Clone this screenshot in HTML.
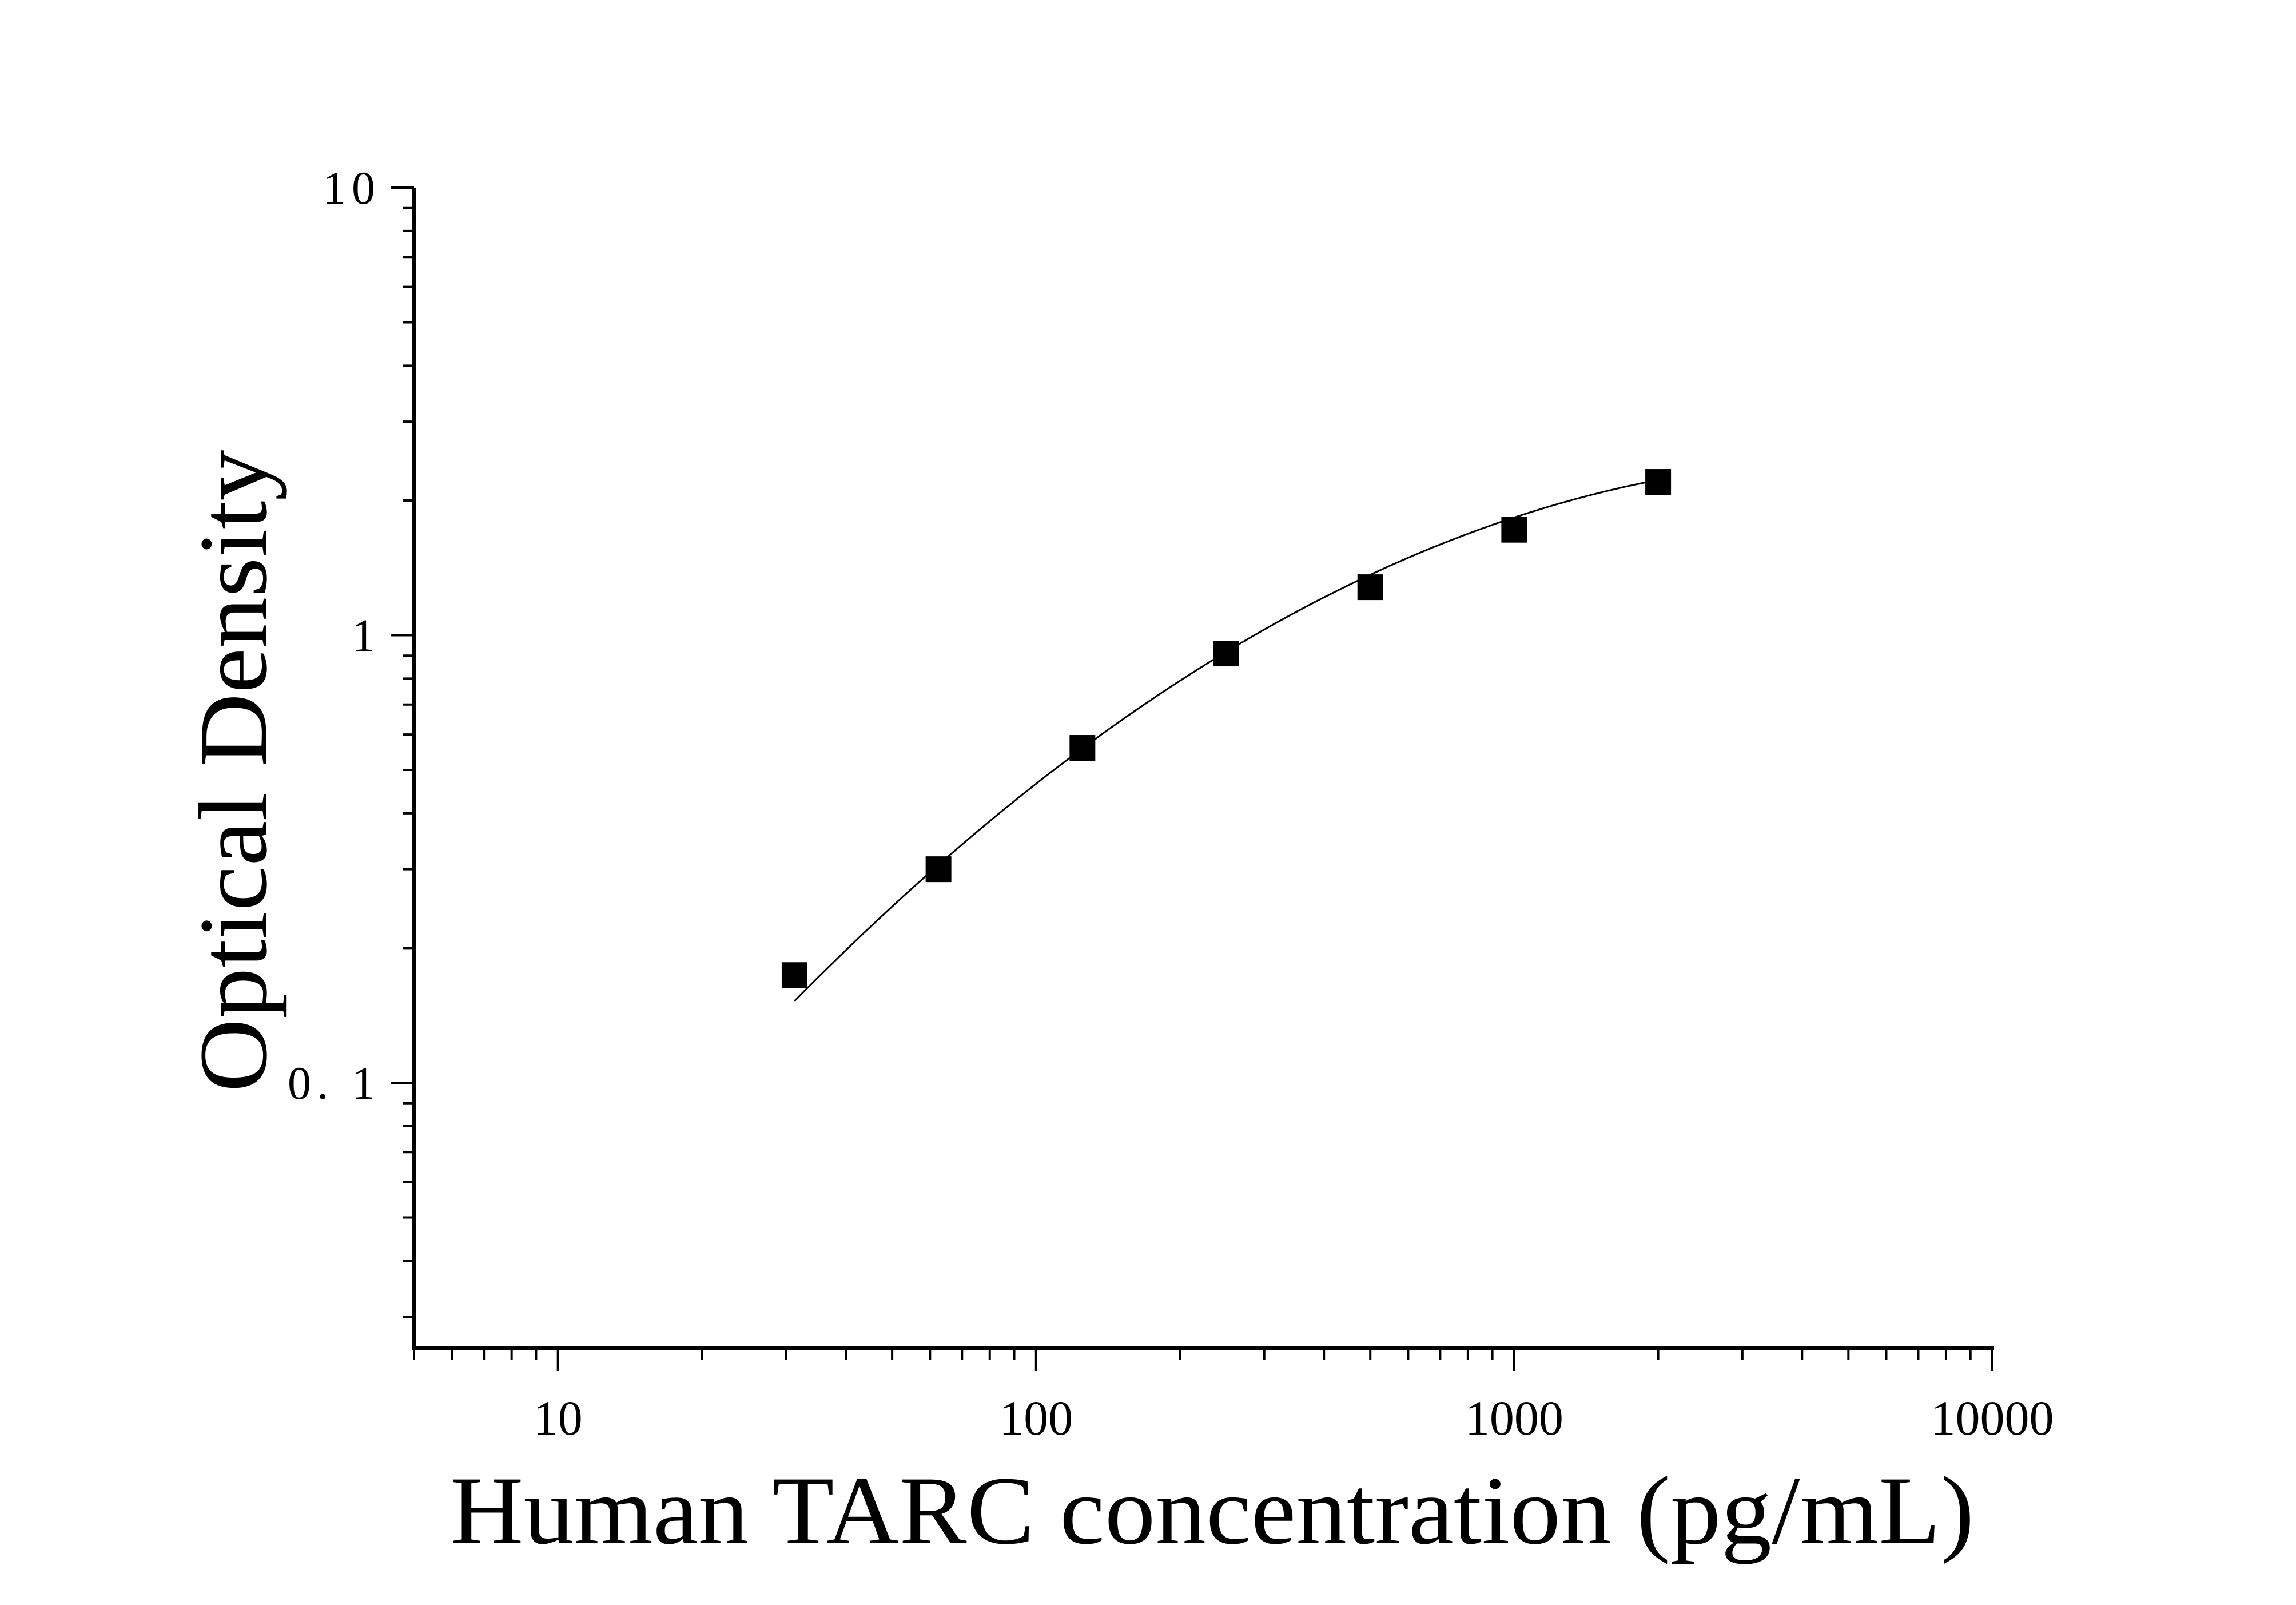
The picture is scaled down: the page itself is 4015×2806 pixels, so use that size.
<!DOCTYPE html>
<html><head><meta charset="utf-8"><style>
html,body{margin:0;padding:0;background:#fff;}
svg{display:block;}
</style></head><body>
<svg id="chart" width="4015" height="2806" viewBox="0 0 4015 2806" xmlns="http://www.w3.org/2000/svg">
<rect width="4015" height="2806" fill="#fff"/>
<g id="axes"></g>
<g id="marks"></g>
<text x="2120" y="2698" text-anchor="middle" font-family="Liberation Serif, serif" font-size="170" textLength="2665" lengthAdjust="spacingAndGlyphs">Human TARC concentration (pg/mL)</text>
<text transform="translate(465,1348) rotate(-90)" text-anchor="middle" font-family="Liberation Serif, serif" font-size="170" textLength="1123" lengthAdjust="spacingAndGlyphs">Optical Density</text>
</svg>
<script>
const concentrations = [31.25, 62.5, 125, 250, 500, 1000, 2000];
const odValues = [0.174, 0.30, 0.56, 0.91, 1.28, 1.72, 2.2];
const xTickValues = [10, 100, 1000, 10000];
const xTickLabels = ["10", "100", "1000", "10000"];
const yTickValues = [0.1, 1, 10];
const yTickLabels = ["0. 1", "1", "10"];
const fitCoefficients = [-2.98, 1.81, -0.243];
const fitRange = [31.25, 2000];

const NS = "http://www.w3.org/2000/svg";
const X0 = 724, X1 = 3484, Y0 = 2357, Y1 = 328;
const xMin = Math.log10(5), xMax = 4, yMin = -1.593, yMax = 1;
function xs(v){ return X0 + (Math.log10(v) - xMin) / (xMax - xMin) * (X1 - X0); }
function ys(v){ return Y0 - (Math.log10(v) - yMin) / (yMax - yMin) * (Y0 - Y1); }
function mk(tag, attrs, parent){
  const e = document.createElementNS(NS, tag);
  for (const k in attrs) e.setAttribute(k, attrs[k]);
  parent.appendChild(e); return e;
}
const axes = document.getElementById('axes');
const marks = document.getElementById('marks');

let ax = mk('line', {x1:X0-3, y1:Y0, x2:X1+3, y2:Y0, stroke:'#000', 'stroke-width':7}, axes);


let ay = mk('line', {x1:X0, y1:Y1, x2:X0, y2:Y0+3, stroke:'#000', 'stroke-width':7}, axes);



for (let d = 0; d <= 4; d++) {
  for (let m = 1; m <= 9; m++) {
    const v = m * Math.pow(10, d);
    if (v < 5 || v > 10000) continue;
    const major = (m === 1);
    const x = xs(v);
    const t = mk('line', {x1:x, y1:Y0, x2:x, y2:Y0 + (major ? 40 : 20), stroke:'#000', 'stroke-width':4}, axes);
    
    
  }
}
xTickValues.forEach((v, i) => {
  const t = mk('text', {x:xs(v), y:2508, 'text-anchor':'middle', 'font-family':'Liberation Serif, serif', 'font-size':86}, axes);
  t.textContent = xTickLabels[i];
  
  
});

for (let d = -2; d <= 1; d++) {
  for (let m = 1; m <= 9; m++) {
    const v = m * Math.pow(10, d);
    if (v < 0.0255 || v > 10.0001) continue;
    const major = (m === 1);
    const y = ys(v);
    const t = mk('line', {x1:X0 - (major ? 40 : 20), y1:y, x2:X0, y2:y, stroke:'#000', 'stroke-width':4}, axes);
    
    
  }
}
yTickValues.forEach((v, i) => {
  const t = mk('text', {x:666, y:ys(v) + 28, 'text-anchor':'end', 'font-family':'Liberation Serif, serif', 'font-size':82, 'letter-spacing':10}, axes);
  t.textContent = yTickLabels[i];
  
  
});

const pts = [];
const l0 = Math.log10(fitRange[0]), l1 = Math.log10(fitRange[1]);
for (let i = 0; i <= 200; i++) {
  const lx = l0 + (l1 - l0) * i / 200;
  const ly = fitCoefficients[0] + fitCoefficients[1] * lx + fitCoefficients[2] * lx * lx;
  pts.push(xs(Math.pow(10, lx)).toFixed(1) + ',' + ys(Math.pow(10, ly)).toFixed(1));
}
const curve = mk('polyline', {points:pts.join(' '), fill:'none', stroke:'#000', 'stroke-width':3}, marks);



concentrations.forEach((c, i) => {
  const s = 45;
  const r = mk('rect', {x:xs(c) - s/2, y:ys(odValues[i]) - s/2, width:s, height:s, fill:'#000'}, marks);
  
  
});
</script>
</body></html>
